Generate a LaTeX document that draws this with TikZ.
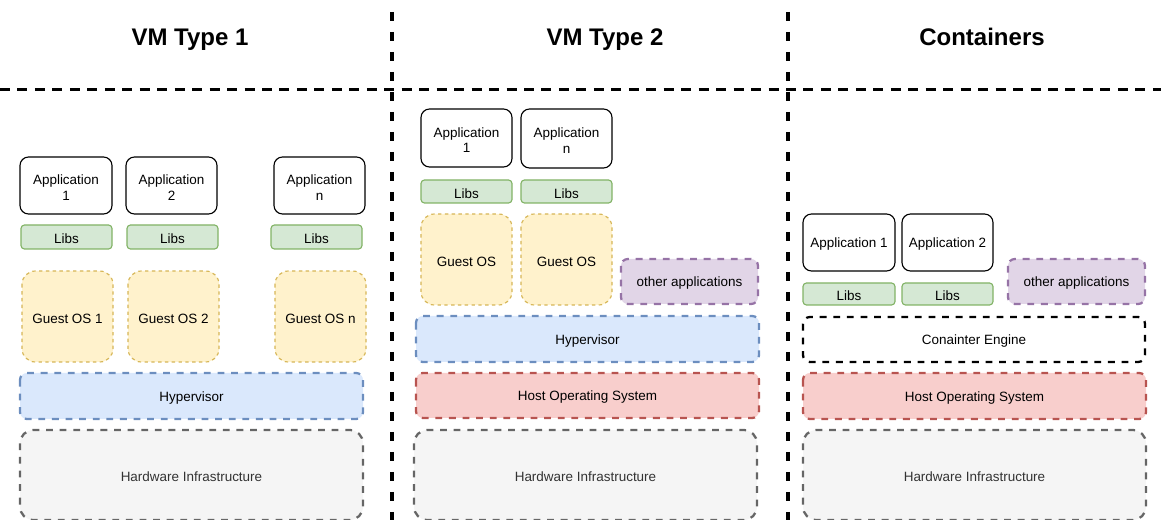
\documentclass[tikz,border=0pt]{standalone}
\usepackage{fontspec}
\setmainfont{Liberation Sans}
\usetikzlibrary{calc}
\definecolor{libsfill}{HTML}{D5E8D4}\definecolor{libsdraw}{HTML}{82B366}
\definecolor{gosfill}{HTML}{FFF2CC}\definecolor{gosdraw}{HTML}{D6B656}
\definecolor{hypfill}{HTML}{DAE8FC}\definecolor{hypdraw}{HTML}{6C8EBF}
\definecolor{hostfill}{HTML}{F8CECC}\definecolor{hostdraw}{HTML}{B85450}
\definecolor{hwfill}{HTML}{F5F5F5}\definecolor{hwdraw}{HTML}{666666}\definecolor{hwtext}{HTML}{333333}
\definecolor{othfill}{HTML}{E1D5E7}\definecolor{othdraw}{HTML}{9673A6}
\tikzset{
  txt/.style={inner sep=0pt, outer sep=0pt, align=center, yshift=-1.5pt, font=\fontsize{10.1}{11.6}\selectfont},
  hwtxt/.style={txt, text=hwtext},
  appbox/.style={draw=black, fill=white, line width=0.85pt, rounded corners=6.4pt},
  libbox/.style={draw=libsdraw, fill=libsfill, line width=0.85pt, rounded corners=2.6pt},
  gosbox/.style={draw=gosdraw, fill=gosfill, line width=0.85pt, rounded corners=10pt, dash pattern=on 2.55pt off 2.55pt},
  layer/.style={line width=1.7pt, rounded corners=5.2pt, dash pattern=on 5.1pt off 5.1pt},
  hypbox/.style={layer, draw=hypdraw, fill=hypfill},
  hostbox/.style={layer, draw=hostdraw, fill=hostfill},
  engbox/.style={layer, draw=black, fill=white},
  othbox/.style={layer, draw=othdraw, fill=othfill},
  hwbox/.style={layer, draw=hwdraw, fill=hwfill, rounded corners=10pt},
  sep/.style={line width=2.6pt, black},
  title/.style={font=\fontsize{18}{20}\selectfont\bfseries, inner sep=0pt, anchor=base},
}
% #1 box style, #2 text style, #3 name, #4-#7 corners, #8 text
\newcommand{\bx}[8]{\path[#1] (#4,#5) rectangle (#6,#7);
  \node[#2] (#3) at ($(#4,#5)!0.5!(#6,#7)$) {#8};}
\begin{document}
\begin{tikzpicture}[x=0.75pt, y=-0.75pt]
\useasboundingbox (0,0) rectangle (1161,520);
% separators
\coordinate (hl) at (0,89.5); \coordinate (hr) at (1161,89.5);
\coordinate (v1t) at (392,12); \coordinate (v1b) at (392,520);
\coordinate (v2t) at (788,12); \coordinate (v2b) at (788,520);
\draw[sep, dash pattern=on 7.5pt off 5.6pt] (hl) -- (hr);
\draw[sep, dash pattern=on 6.8pt off 8.2pt] (v1t) -- (v1b);
\draw[sep, dash pattern=on 6.8pt off 8.2pt] (v2t) -- (v2b);
% titles
\node[title] (t1) at (190,45.5) {VM Type 1};
\node[title] (t2) at (605,45.5) {VM Type 2};
\node[title] (t3) at (982,45.5) {Containers};
% VM Type 1
\bx{appbox}{txt}{a11}{20}{157}{112}{214}{Application\\1}
\bx{appbox}{txt}{a12}{126}{157}{217}{214}{Application\\2}
\bx{appbox}{txt}{a1n}{274}{157}{365}{214}{Application\\n}
\bx{libbox}{txt}{l11}{21}{225}{112}{249}{Libs}
\bx{libbox}{txt}{l12}{127}{225}{218}{249}{Libs}
\bx{libbox}{txt}{l1n}{271}{225}{362}{249}{Libs}
\bx{gosbox}{txt}{g11}{22}{271}{113}{362}{Guest OS 1}
\bx{gosbox}{txt}{g12}{128}{271}{219}{362}{Guest OS 2}
\bx{gosbox}{txt}{g1n}{275}{271}{366}{362}{Guest OS n}
\bx{hypbox}{txt}{h1}{20}{373}{363}{419}{Hypervisor}
\bx{hwbox}{hwtxt}{hw1}{20}{430}{363}{520}{Hardware Infrastructure}
% VM Type 2
\bx{appbox}{txt}{a21}{421}{109}{512}{167}{Application\\1}
\bx{appbox}{txt}{a2n}{521}{109}{612}{168}{Application\\n}
\bx{libbox}{txt}{l21}{421}{180}{512}{203}{Libs}
\bx{libbox}{txt}{l2n}{521}{180}{612}{203}{Libs}
\bx{gosbox}{txt}{g21}{421}{214}{512}{305}{Guest OS}
\bx{gosbox}{txt}{g2n}{521}{214}{612}{305}{Guest OS}
\bx{othbox}{txt}{o2}{621}{259}{758}{304}{other applications}
\bx{hypbox}{txt}{h2}{416}{316}{759}{362}{Hypervisor}
\bx{hostbox}{txt}{ho2}{416}{373}{759}{418}{Host Operating System}
\bx{hwbox}{hwtxt}{hw2}{414}{430}{757}{520}{Hardware Infrastructure}
% Containers
\bx{appbox}{txt}{a31}{803}{214}{895}{271}{Application 1}
\bx{appbox}{txt}{a32}{902}{214}{993}{271}{Application 2}
\bx{libbox}{txt}{l31}{803}{283}{895}{305}{Libs}
\bx{libbox}{txt}{l32}{902}{283}{993}{305}{Libs}
\bx{othbox}{txt}{o3}{1008}{259}{1145}{304}{other applications}
\bx{engbox}{txt}{e3}{803}{317}{1145}{362}{Conainter Engine}
\bx{hostbox}{txt}{ho3}{803}{373}{1146}{419}{Host Operating System}
\bx{hwbox}{hwtxt}{hw3}{803}{430}{1146}{520}{Hardware Infrastructure}
\end{tikzpicture}
\end{document}
